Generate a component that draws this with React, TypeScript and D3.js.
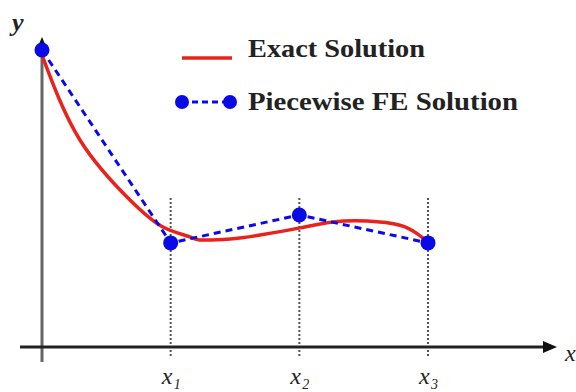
import React from "react";
import * as d3 from "d3";

const nodeX = [0, 1, 2, 3];
const feValues = [0.99, 0.347, 0.44, 0.347];
const exactX = [0, 0.295, 0.684, 0.94, 1.15, 1.228, 1.461, 1.694, 2.005, 2.262, 2.526, 2.782, 2.915, 3.0];
const exactY = [0.973, 0.69, 0.49, 0.4, 0.367, 0.357, 0.36, 0.373, 0.397, 0.417, 0.42, 0.406, 0.378, 0.35];
const tickLabels = ["1", "2", "3"];
const legendLabels = ["Exact Solution", "Piecewise FE Solution"];

export default function App() {
  const W = 576, H = 392;
  const x = d3.scaleLinear().domain([0, 3]).range([42, 428]);
  const y = d3.scaleLinear().domain([0, 1]).range([347, 47]);
  const exactLine = d3
    .line<number>()
    .x((_, i) => x(exactX[i]))
    .y((d) => y(d))
    .curve(d3.curveNatural);
  const feLine = d3
    .line<number>()
    .x((_, i) => x(nodeX[i]))
    .y((d) => y(d));
  const red = "#e8231c";
  const blue = "#0a0ae6";
  const serif = { fontFamily: "Liberation Serif" };
  return (
    <svg width={W} height={H} style={{ position: "absolute", left: 0, top: 0, background: "#fff" }}>
      {/* guide lines */}
      {nodeX.slice(1).map((n) => (
        <line key={n} x1={x(n)} x2={x(n)} y1={198} y2={356} stroke="#555" strokeWidth={2} strokeDasharray="2,2" />
      ))}
      {/* axes */}
      <line x1={x(0)} x2={x(0)} y1={50} y2={362} stroke="#666" strokeWidth={3} />
      <path d={`M${x(0)},37 L${x(0) - 6},51 L${x(0) + 6},51 Z`} fill="#111" />
      <line x1={20} x2={546} y1={y(0)} y2={y(0)} stroke="#222" strokeWidth={3} />
      <path d={`M557,${y(0)} L543,${y(0) - 6} L543,${y(0) + 6} Z`} fill="#111" />
      {/* exact solution */}
      <path d={exactLine(exactY) || ""} fill="none" stroke={red} strokeWidth={3.5} />
      {/* FE solution */}
      <path d={feLine(feValues) || ""} fill="none" stroke={blue} strokeWidth={3} strokeDasharray="7,5" />
      {feValues.map((v, i) => (
        <circle key={i} cx={x(nodeX[i])} cy={y(v)} r={7.5} fill={blue} />
      ))}
      {/* axis labels */}
      <text x={12} y={31} style={serif} fontStyle="italic" fontWeight="bold" fontSize={26} fill="#222">y</text>
      <text x={565} y={361} style={serif} fontStyle="italic" fontSize={24} fill="#222">x</text>
      {tickLabels.map((t, i) => (
        <g key={t}>
          <text x={x(i + 1) - 9} y={384} style={serif} fontStyle="italic" fontSize={24} fill="#222">x</text>
          <text x={x(i + 1) + 3} y={389} style={serif} fontStyle="italic" fontSize={14} fill="#222">{t}</text>
        </g>
      ))}
      {/* legend */}
      <line x1={182} x2={232} y1={58} y2={58} stroke={red} strokeWidth={3.5} />
      <text x={248} y={57} style={serif} fontWeight="bold" fontSize={26} fill="#222" textLength={177} lengthAdjust="spacingAndGlyphs">{legendLabels[0]}</text>
      <line x1={182} x2={230} y1={102} y2={102} stroke={blue} strokeWidth={3} strokeDasharray="6,4" />
      <circle cx={182} cy={102} r={7} fill={blue} />
      <circle cx={230} cy={102} r={7} fill={blue} />
      <text x={248} y={110} style={serif} fontWeight="bold" fontSize={26} fill="#222" textLength={270} lengthAdjust="spacingAndGlyphs">{legendLabels[1]}</text>
    </svg>
  );
}
